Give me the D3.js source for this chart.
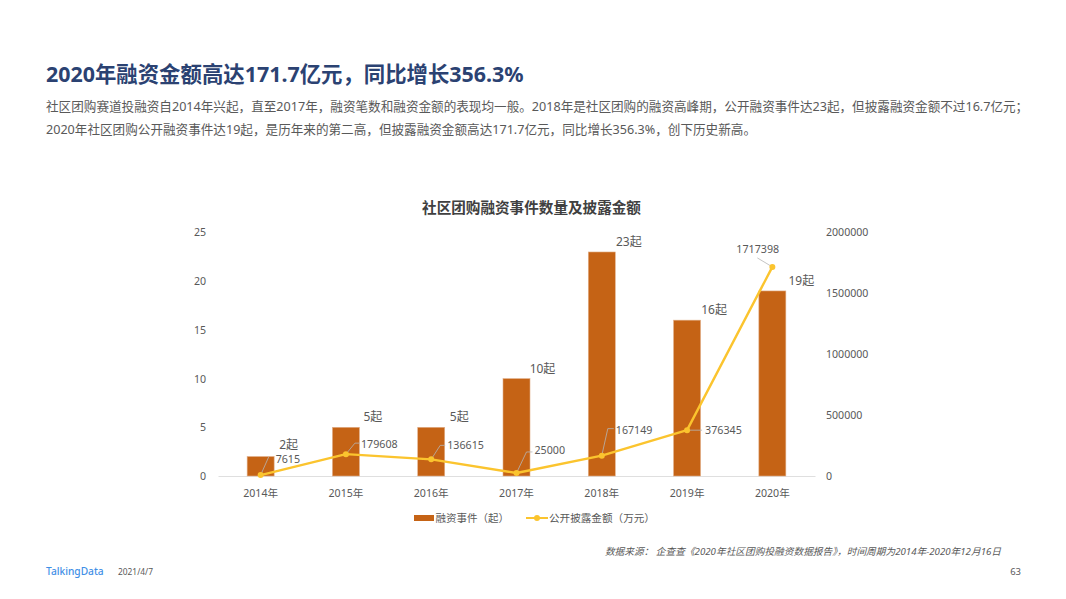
<!DOCTYPE html>
<html>
<head>
<meta charset="utf-8">
<script src="https://cdn.jsdelivr.net/npm/d3@7/dist/d3.min.js"></script>
<style>
    html, body { margin: 0; padding: 0; background: #fff; }
    svg { display: block; }
    text { font-family: "Noto Sans", "Noto Sans CJK SC", sans-serif; }
</style>
</head>
<body>
<main></main>
<script>
const years = ["2014年", "2015年", "2016年", "2017年", "2018年", "2019年", "2020年"];
const eventCounts = [2, 5, 5, 10, 23, 16, 19];
const amounts = [7615, 179608, 136615, 25000, 167149, 376345, 1717398];
const leftTicks = [0, 5, 10, 15, 20, 25];
const rightTicks = [0, 500000, 1000000, 1500000, 2000000];

const headline = "2020年融资金额高达171.7亿元，同比增长356.3%";
const bodyLines = [
    "社区团购赛道投融资自2014年兴起，直至2017年，融资笔数和融资金额的表现均一般。2018年是社区团购的融资高峰期，公开融资事件达23起，但披露融资金额不过16.7亿元；",
    "2020年社区团购公开融资事件达19起，是历年来的第二高，但披露融资金额高达171.7亿元，同比增长356.3%，创下历史新高。"
];

const width = 1066;
const height = 599;
const margin = { top: 232.5, right: 251, bottom: 123, left: 218 };
const barColor = "#c56315";
const lineColor = "#fbc42e";
const textColor = "#595959";

const svg = d3.select("main")
    .append("svg")
    .attr("width", width)
    .attr("height", height);

// Page header
svg.append("text")
    .attr("x", 46)
    .attr("y", 82)
    .attr("fill", "#2b4272")
    .style("font-size", "21.4px")
    .style("font-weight", 700)
    .text(headline);

svg.selectAll(".body-line")
    .data(bodyLines)
    .enter()
    .append("text")
    .attr("class", "body-line")
    .attr("x", 46)
    .attr("y", (d, i) => 110.5 + i * 23)
    .attr("fill", textColor)
    .style("font-size", "12.6px")
    .text(d => d);

// Scales
const xScale = d3.scaleBand()
    .domain(years)
    .range([margin.left, width - margin.right]);

const yLeft = d3.scaleLinear()
    .domain([0, 25])
    .range([height - margin.bottom, margin.top]);

const yRight = d3.scaleLinear()
    .domain([0, 2000000])
    .range([height - margin.bottom, margin.top]);

const xCenter = d => xScale(d) + xScale.bandwidth() / 2;

// Axes
const xAxis = svg.append("g")
    .attr("transform", `translate(0, ${height - margin.bottom})`)
    .call(d3.axisBottom(xScale).tickSize(0).tickPadding(13));
xAxis.select(".domain").attr("stroke", "#dfdfdf");

const leftAxis = svg.append("g")
    .attr("transform", `translate(${margin.left}, 0)`)
    .call(d3.axisLeft(yLeft).tickValues(leftTicks).tickSize(0).tickPadding(12));
leftAxis.select(".domain").remove();

const rightAxis = svg.append("g")
    .attr("transform", `translate(${width - margin.right}, 0)`)
    .call(d3.axisRight(yRight).tickValues(rightTicks).tickSize(0).tickPadding(11).tickFormat(d => d));
rightAxis.select(".domain").remove();

svg.selectAll(".tick text")
    .attr("fill", textColor)
    .style("font-size", "10.6px")
    .style("font-family", '"Noto Sans", "Noto Sans CJK SC", sans-serif');

// Bars
const barWidth = 27;
svg.selectAll(".bar")
    .data(years)
    .enter()
    .append("rect")
    .attr("class", "bar")
    .attr("x", d => xCenter(d) - barWidth / 2)
    .attr("y", (d, i) => yLeft(eventCounts[i]))
    .attr("width", barWidth)
    .attr("height", (d, i) => yLeft(0) - yLeft(eventCounts[i]))
    .attr("fill", barColor)
    .attr("stroke", "#e2b08a")
    .attr("stroke-width", 0.6);

// Bar labels, nudged off the bar as in the original
const barLabelShift = [[28, -12], [27, -10], [28, -10], [26, -10], [27, -10], [27, -10], [29, -10]];
svg.selectAll(".bar-label")
    .data(years)
    .enter()
    .append("text")
    .attr("class", "bar-label")
    .attr("x", (d, i) => xCenter(d) + barLabelShift[i][0])
    .attr("y", (d, i) => yLeft(eventCounts[i]) + barLabelShift[i][1] + 4)
    .attr("text-anchor", "middle")
    .attr("fill", textColor)
    .style("font-size", "12px")
    .text((d, i) => eventCounts[i] + "起");

// Leader lines from each point to its label: elbow and end, relative to the point
const leaders = [
    [[8, -18], [8, -18]],
    [[9, -11], [14, -11]],
    [[9, -14], [14, -14]],
    [[10, -21], [16, -21]],
    [[6, -27], [12, -27]],
    [[0, 0], [15, 0]],
    [[-15, -9], [-15, -9]]
];
svg.selectAll(".leader")
    .data(years)
    .enter()
    .append("path")
    .attr("class", "leader")
    .attr("d", (d, i) => {
        const px = xCenter(d);
        const py = yRight(amounts[i]);
        const [a, b] = leaders[i];
        return `M${px},${py}L${px + a[0]},${py + a[1]}L${px + b[0]},${py + b[1]}`;
    })
    .attr("fill", "none")
    .attr("stroke", "#b5b5b5")
    .attr("stroke-width", 0.8);

// Amount line
const line = d3.line()
    .x(d => xCenter(d))
    .y((d, i) => yRight(amounts[i]));

svg.append("path")
    .datum(years)
    .attr("d", line)
    .attr("fill", "none")
    .attr("stroke", lineColor)
    .attr("stroke-width", 2.4)
    .attr("stroke-linejoin", "round")
    .attr("stroke-linecap", "round");

svg.selectAll(".dot")
    .data(years)
    .enter()
    .append("circle")
    .attr("class", "dot")
    .attr("cx", d => xCenter(d))
    .attr("cy", (d, i) => yRight(amounts[i]))
    .attr("r", 3)
    .attr("fill", lineColor);

// Amount labels
const amountLabelShift = [[15, -12], [15, -6], [16, -10], [18, -19], [14, -22], [18, 4], [-36, -14]];
svg.selectAll(".amount-label")
    .data(years)
    .enter()
    .append("text")
    .attr("class", "amount-label")
    .attr("x", (d, i) => xCenter(d) + amountLabelShift[i][0])
    .attr("y", (d, i) => yRight(amounts[i]) + amountLabelShift[i][1])
    .attr("fill", textColor)
    .style("font-size", "10.7px")
    .text((d, i) => amounts[i]);

// Chart title
svg.append("text")
    .attr("x", 531.5)
    .attr("y", 213)
    .attr("text-anchor", "middle")
    .attr("fill", "#404040")
    .style("font-size", "14.6px")
    .style("font-weight", 700)
    .text("社区团购融资事件数量及披露金额");

// Legend
const legend = svg.append("g");
legend.append("rect")
    .attr("x", 414)
    .attr("y", 515)
    .attr("width", 20)
    .attr("height", 6)
    .attr("fill", barColor);
legend.append("text")
    .attr("x", 435.5)
    .attr("y", 522)
    .attr("fill", textColor)
    .style("font-size", "10.5px")
    .text("融资事件（起）");
legend.append("line")
    .attr("x1", 526)
    .attr("x2", 548)
    .attr("y1", 518)
    .attr("y2", 518)
    .attr("stroke", lineColor)
    .attr("stroke-width", 2);
legend.append("circle")
    .attr("cx", 537)
    .attr("cy", 518)
    .attr("r", 3)
    .attr("fill", lineColor);
legend.append("text")
    .attr("x", 549)
    .attr("y", 522)
    .attr("fill", textColor)
    .style("font-size", "10.6px")
    .text("公开披露金额（万元）");

// Footer
svg.append("text")
    .attr("x", 1001)
    .attr("y", 555)
    .attr("text-anchor", "end")
    .attr("fill", textColor)
    .style("font-size", "9.7px")
    .style("font-style", "italic")
    .text("数据来源：  企查查《2020年社区团购投融资数据报告》，时间周期为2014年-2020年12月16日");

svg.append("text")
    .attr("x", 46)
    .attr("y", 575)
    .attr("fill", "#3f8fe6")
    .style("font-size", "10.2px")
    .style("font-weight", 500)
    .text("TalkingData");

svg.append("text")
    .attr("x", 118)
    .attr("y", 575)
    .attr("fill", textColor)
    .style("font-size", "8.4px")
    .text("2021/4/7");

svg.append("text")
    .attr("x", 1021)
    .attr("y", 575)
    .attr("text-anchor", "end")
    .attr("fill", textColor)
    .style("font-size", "9.5px")
    .text("63");
</script>
</body>
</html>
